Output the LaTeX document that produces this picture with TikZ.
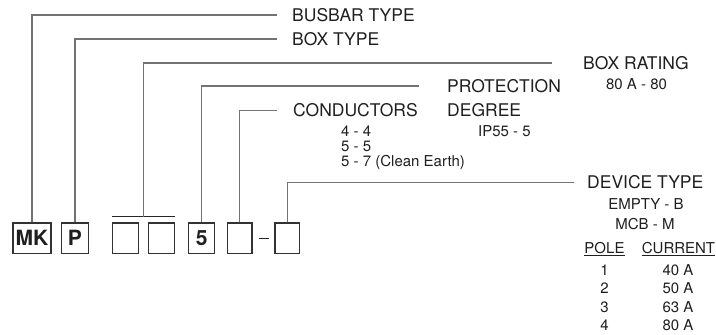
\documentclass[tikz,border=0pt]{standalone}
\usepackage{fontspec}
\setmainfont{TeX Gyre Heros}
\usetikzlibrary{calc}
\begin{document}
\begin{tikzpicture}[x=1pt,y=-1pt,
 big/.style={font=\fontsize{17.5}{20}\selectfont, text=black!88, inner sep=0pt, text height=12.6pt, text depth=0pt, anchor=west},
 small/.style={font=\fontsize{15}{17}\selectfont, text=black!88, inner sep=0pt, text height=10.8pt, text depth=0pt},
 codebox/.style={draw=black!80, line width=1.3pt, minimum height=30.5pt, minimum width=26pt, inner sep=0pt, font=\fontsize{21}{24}\selectfont\bfseries, text=black!88},
 lead/.style={draw=black!55, line width=1.1pt},
 bar/.style={draw=black!85, line width=1.1pt}]
\useasboundingbox (0,0) rectangle (716,335);

% code boxes
\node[codebox, minimum width=38pt] (mk) at (32,238.3) {MK};
\node[codebox, minimum width=27.5pt] (p) at (75,238.3) {P};
\node[codebox] (b3) at (125.4,238.3) {};
\node[codebox] (b4) at (161.5,238.3) {};
\node[codebox] (b5) at (201.8,238.3) {5};
\node[codebox, minimum width=24.5pt] (b6) at (239.7,238.3) {};
\node[codebox, minimum width=24.5pt] (b7) at (287.2,238.3) {};
\draw[bar, shorten <=6pt, shorten >=5.5pt] (b6.east) -- (b7.west);

% bracket over the two empty boxes
\coordinate (bl) at ([yshift=5.5pt]b3.north west);
\coordinate (br) at ([yshift=5.5pt]b4.north east);
\draw[bar] (bl) -- (br);
\coordinate (bm) at ($(bl)!0.5!(br)$);

% labels
\node[big] (busbar) at (292,15) {BUSBAR TYPE};
\node[big] (boxtype) at (292,39) {BOX TYPE};
\node[big] (rating) at (583,63) {BOX RATING};
\node[big] (prot) at (447,86) {PROTECTION};
\node[big] (degree) at (447,110) {DEGREE};
\node[big] (cond) at (293,110.5) {CONDUCTORS};
\node[big] (device) at (587,182.5) {DEVICE TYPE};

% leaders
\draw[lead] (mk.north) |- ([xshift=-15pt]busbar.west);
\draw[lead] (p.north) |- ([xshift=-15pt]boxtype.west);
\draw[lead] (bm) |- ([xshift=-31pt]rating.west);
\draw[lead] (b5.north) |- ([xshift=-28pt]prot.west);
\draw[lead] (b6.north) |- ([xshift=-16pt]cond.west);
\draw[lead] (b7.north) |- ([xshift=-13pt]device.west);

% option texts
\node[small] (r80) at (636.5,84) {80 A - 80};
\node[small, anchor=west] (ip) at (478,131) {IP55 - 5};
\node[small, anchor=west] (c4) at (341,131) {4 - 4};
\node[small, anchor=west] (c5) at (341,146) {5 - 5};
\node[small, anchor=west] (c7) at (341,161) {5 - 7 (Clean Earth)};
\node[small] (empty) at (646,204) {EMPTY - B};
\node[small] (mcb) at (645,224) {MCB - M};
\node[small] (pole) at (604.5,248) {\underline{POLE}};
\node[small] (curr) at (678.5,248) {\underline{CURRENT}};
\node[small] (p1) at (604.5,270) {1};
\node[small] (p2) at (604.5,288.5) {2};
\node[small] (p3) at (604.5,307) {3};
\node[small] (p4) at (604.5,325.5) {4};
\node[small] (a1) at (678,270) {40 A};
\node[small] (a2) at (678,288.5) {50 A};
\node[small] (a3) at (678,307) {63 A};
\node[small] (a4) at (678,325.5) {80 A};
\end{tikzpicture}
\end{document}
